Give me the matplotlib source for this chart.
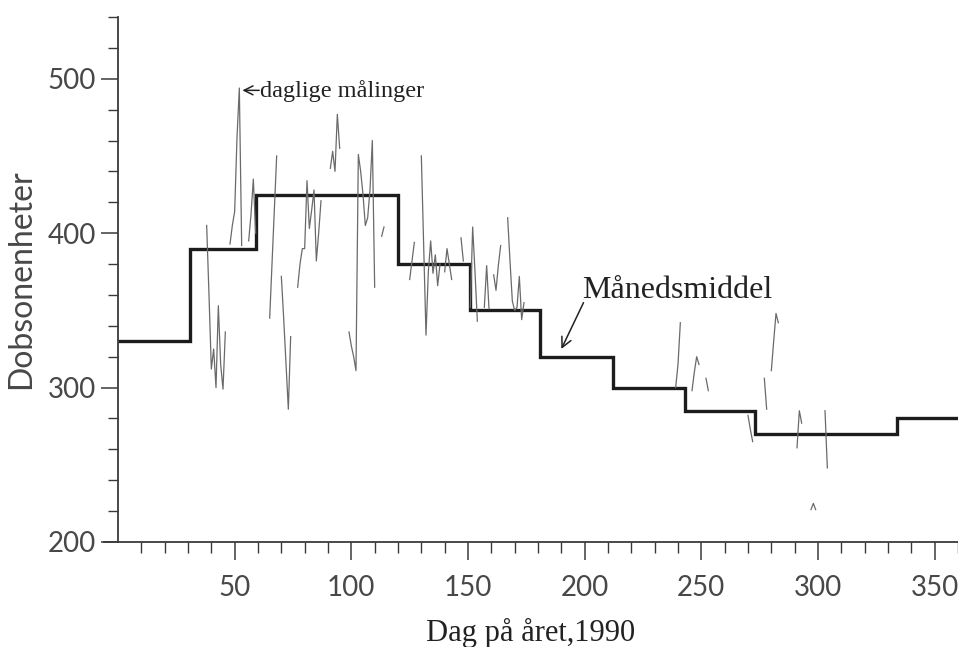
#!/usr/bin/env python3
# -*- coding: utf-8 -*-
"""
Ozon over Oslo 1990: daglige målinger og månedsmiddel (Dobsonenheter)
"""

import numpy as np
import matplotlib.pyplot as plt
import matplotlib.ticker as ticker

#%% data
# month edges (day of year) and monthly means
month_edges = [0, 31, 59, 90, 120, 151, 181, 212, 243, 273, 304, 334, 365]
month_mean = [330, 390, 425, 425, 380, 350, 320, 300, 285, 270, 270, 280]

# daily measurements, as (first day, values) for each unbroken run
daily_runs = [
    (38, [405, 360, 312, 325, 300, 353, 315, 299, 336]),
    (48, [393, 405, 414, 462, 494, 392]),
    (56, [395, 412, 435, 400]),
    (65, [345, 380, 415, 450]),
    (70, [372, 345, 315, 286, 333]),
    (77, [365, 380, 390, 390, 434, 403, 415, 428, 382, 400, 421]),
    (91, [442, 453, 440, 477, 455]),
    (99, [336, 327, 320, 311, 451, 440, 425, 405, 410, 428, 460, 365]),
    (113, [398, 404]),
    (125, [370, 382, 394]),
    (130, [450, 392, 334, 375, 395, 374, 386, 366, 380]),
    (140, [375, 390, 380, 370]),
    (147, [397, 382]),
    (151, [352, 404, 375, 343]),
    (157, [352, 379, 351]),
    (161, [373, 363, 379, 392]),
    (167, [410, 382, 356, 350, 352, 372, 344, 355]),
    (239, [300, 315, 342]),
    (246, [298, 310, 320, 315]),
    (252, [306, 298]),
    (270, [282, 273, 265]),
    (277, [306, 286]),
    (280, [311, 330, 348, 342]),
    (291, [261, 285, 277]),
    (297, [221, 225, 221]),
    (303, [285, 248]),
]

# one value per day, gaps as NaN
dag = np.arange(1, 366)
ozon = np.full(dag.shape, np.nan)
for start, vals in daily_runs:
    ozon[start - 1:start - 1 + len(vals)] = vals

#%% plot
fig = plt.figure(figsize=(9.58, 6.47), dpi=100)
ax = fig.add_axes([104/958, 1 - 542/647, (958 - 104)/958, (542 - 17)/647])

ax.plot(dag, ozon, color='#6a6a6a', lw=0.9)
ax.stairs(month_mean, month_edges, color='#1c1c1c', lw=2.4, baseline=None)

ax.set_xlim(-6, 360)
ax.set_ylim(200, 540)

for side in ('top', 'right'):
    ax.spines[side].set_visible(False)
ax.spines['left'].set_position(('data', 0))
for side in ('left', 'bottom'):
    ax.spines[side].set_color('#3a3a3a')
    ax.spines[side].set_linewidth(1.3)

#x-ticks
ax.xaxis.set_major_locator(ticker.FixedLocator([50, 100, 150, 200, 250, 300, 350]))
ax.xaxis.set_minor_locator(ticker.FixedLocator(np.arange(10, 361, 10)))
#y-ticks
ax.yaxis.set_major_locator(ticker.MultipleLocator(100))
ax.yaxis.set_minor_locator(ticker.MultipleLocator(20))

ax.tick_params(which='major', axis='x', length=13, width=1.1, color='#3a3a3a', pad=11)
ax.tick_params(which='minor', axis='x', length=8, width=1.0, color='#3a3a3a')
ax.tick_params(which='major', axis='y', length=12, width=1.1, color='#3a3a3a', pad=4)
ax.tick_params(which='minor', axis='y', length=7, width=1.0, color='#3a3a3a')
ax.tick_params(which='major', labelsize=20, labelcolor='#484848')
for lab in ax.get_xticklabels() + ax.get_yticklabels():
    lab.set_family('Lato')

ax.set_xlabel('Dag på året,1990', family='Liberation Serif', fontsize=22,
              color='#222222', labelpad=12)
ax.set_ylabel('Dobsonenheter', family='Lato', fontsize=23,
              color='#484848', labelpad=8)

serif = ['Liberation Serif', 'DejaVu Serif']
ax.annotate('', xy=(53.3, 492.5), xytext=(60.5, 492.5),
            arrowprops=dict(arrowstyle='->', lw=1.1, color='#222222',
                            mutation_scale=16, shrinkA=0, shrinkB=0))
ax.text(60.8, 488, 'daglige målinger', family=serif, fontsize=17.5,
        color='#222222', va='baseline')
ax.text(199, 358, 'Månedsmiddel', family=serif, fontsize=23,
        color='#222222', va='baseline')
ax.annotate('', xy=(190, 325), xytext=(199.5, 355),
            arrowprops=dict(arrowstyle='->', lw=1.1, color='#222222',
                            mutation_scale=18, shrinkA=0, shrinkB=0))

plt.savefig('out.png', dpi=100)
